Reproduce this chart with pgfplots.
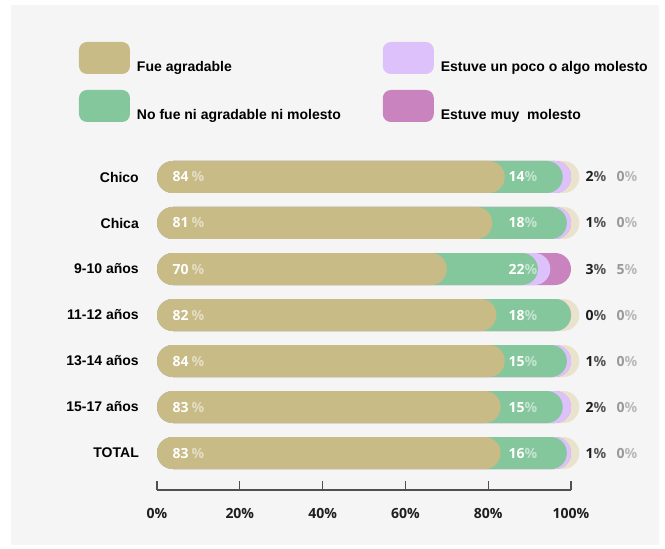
\documentclass[border=0pt]{standalone}
\usepackage{pgfplots}
\pgfplotsset{compat=1.18}
\usepackage{pgfplotstable}
\usepackage{fontspec}
\setmainfont{Liberation Sans}
\newfontfamily\numfont{Open Sans}

\definecolor{tanc}{HTML}{C8BB86}
\definecolor{greenc}{HTML}{85C79C}
\definecolor{lavc}{HTML}{DDC1FB}
\definecolor{magc}{HTML}{C983BF}
\definecolor{bgbar}{HTML}{E9E2CD}
\definecolor{panelc}{HTML}{F5F5F5}
\definecolor{axisc}{HTML}{505050}
\definecolor{textc}{HTML}{1E1E1E}

\pgfplotstableread{
y fue ni poco muy
6 84 14 2 0
5 81 18 1 0
4 70 22 3 5
3 82 18 0 0
2 84 15 1 0
1 83 15 2 0
0 83 16 1 0
}\datatable

\newcommand\lblfont{\numfont\bfseries\fontsize{14}{16}\selectfont}
\newcommand\rowlabels[5]{%
  \node[anchor=west, inner sep=0pt, font=\lblfont, text height=10pt, text depth=0pt] at (axis cs:3.7,#1)
    {\textcolor{white}{#2}\kern3pt\textcolor{white!50!tanc}{\%}};
  \node[anchor=east, inner sep=0pt, font=\lblfont, text height=10pt, text depth=0pt] at (axis cs:91.9,#1)
    {\textcolor{white}{#3}\textcolor{white!50!greenc}{\%}};
  \node[anchor=west, inner sep=0pt, font=\lblfont, text height=10pt, text depth=0pt] at (axis cs:103.5,#1)
    {\textcolor{textc}{#4}\textcolor{black!65}{\%}};
  \node[anchor=west, inner sep=0pt, font=\lblfont, text height=10pt, text depth=0pt] at (axis cs:111.0,#1)
    {\textcolor{black!40}{#5}\textcolor{black!27}{\%}};
}

\begin{document}
\begin{tikzpicture}[x=1pt,y=1pt]
\fill[white] (0,0) rectangle (665,549);
\fill[panelc] (11,4) rectangle (659,544);
\begin{axis}[
  at={(157pt,59pt)}, anchor=south west, scale only axis,
  width=414pt, height=345.2pt,
  xmin=0, xmax=100, ymin=-0.804, ymax=6.7,
  clip=false,
  xbar, bar width=32pt,
  axis x line*=bottom, axis y line*=left,
  y axis line style={draw=none},
  x axis line style={draw=axisc, line width=1.2pt, -},
  xtick={0,20,...,100}, xticklabels={0\%,20\%,40\%,60\%,80\%,100\%},
  xtick align=inside, major tick length=9pt,
  xtick style={draw=axisc, line width=1.2pt},
  ytick={0,...,6},
  yticklabels={TOTAL,15-17 años,13-14 años,11-12 años,9-10 años,Chica,Chico},
  ytick style={draw=none},
  xticklabel style={font=\lblfont, text=textc, inner sep=0pt, anchor=north, yshift=-18pt},
  yticklabel style={font=\bfseries\fontsize{14}{16}\selectfont, text=black, inner sep=0pt, anchor=east, xshift=-9pt},
  legend columns=2,
  legend cell align=left,
  legend style={at={(-0.18841,1.2978)}, anchor=north west, draw=none, fill=none,
    inner sep=0pt, outer sep=0pt, row sep=16pt, column sep=0pt,
    nodes={inner sep=0pt, font=\bfseries\fontsize{14}{16}\selectfont, text=black, text height=10pt, text depth=0pt},
    /tikz/every odd column/.style={column sep=7pt},
    /tikz/every even column/.style={column sep=42pt}},
]
\addplot[fill=bgbar, draw=none, bar shift=0pt, rounded corners=15.9pt, forget plot]
  coordinates {(102,6) (102,5) (102,3) (102,2) (102,1) (102,0)};
\addplot[fill=magc, draw=none, bar shift=0pt, rounded corners=15.9pt, forget plot]
  table[x expr=\thisrow{fue}+\thisrow{ni}+\thisrow{poco}+\thisrow{muy}, y=y] {\datatable};
\addplot[fill=lavc, draw=none, bar shift=0pt, rounded corners=15.9pt, forget plot]
  table[x expr=\thisrow{fue}+\thisrow{ni}+\thisrow{poco}, y=y] {\datatable};
\addplot[fill=greenc, draw=none, bar shift=0pt, rounded corners=15.9pt, forget plot]
  table[x expr=\thisrow{fue}+\thisrow{ni}, y=y] {\datatable};
\addplot[fill=tanc, draw=none, bar shift=0pt, rounded corners=15.9pt, forget plot]
  table[x=fue, y=y] {\datatable};

\addlegendimage{fill=tanc, draw=none, legend image code/.code={\fill[rounded corners=8pt] (0pt,-7pt) rectangle (51pt,25pt);}}
\addlegendentry{Fue agradable}
\addlegendimage{fill=lavc, draw=none, legend image code/.code={\fill[rounded corners=8pt] (0pt,-7pt) rectangle (51pt,25pt);}}
\addlegendentry{Estuve un poco o algo molesto}
\addlegendimage{fill=greenc, draw=none, legend image code/.code={\fill[rounded corners=8pt] (0pt,-7pt) rectangle (51pt,25pt);}}
\addlegendentry{No fue ni agradable ni molesto}
\addlegendimage{fill=magc, draw=none, legend image code/.code={\fill[rounded corners=8pt] (0pt,-7pt) rectangle (51pt,25pt);}}
\addlegendentry{Estuve muy\ \ molesto}

\rowlabels{6}{84}{14}{2}{0}
\rowlabels{5}{81}{18}{1}{0}
\rowlabels{4}{70}{22}{3}{5}
\rowlabels{3}{82}{18}{0}{0}
\rowlabels{2}{84}{15}{1}{0}
\rowlabels{1}{83}{15}{2}{0}
\rowlabels{0}{83}{16}{1}{0}
\end{axis}
\end{tikzpicture}
\end{document}
